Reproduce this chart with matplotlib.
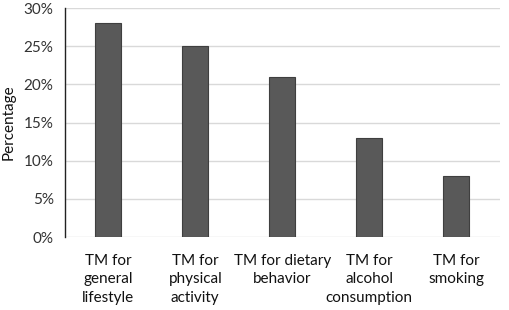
import matplotlib
matplotlib.use('Agg')
import matplotlib.pyplot as plt
from matplotlib.ticker import PercentFormatter

categories = ['TM for\ngeneral\nlifestyle', 'TM for\nphysical\nactivity',
              'TM for dietary\nbehavior', 'TM for\nalcohol\nconsumption',
              'TM for\nsmoking']
values = [28, 25, 21, 13, 8]
yticks = [0, 5, 10, 15, 20, 25, 30]

plt.rcParams['font.family'] = ['Lato', 'DejaVu Sans']

fig = plt.figure(figsize=(5.1, 3.1), dpi=100)
ax = fig.add_axes([0.127, 0.235, 0.853, 0.739])

x = list(range(len(values)))
ax.bar(x, values, width=0.3, color='#595959', edgecolor='#3f3f3f',
       linewidth=0.8, zorder=3)

ax.set_xlim(-0.5, len(values) - 0.5)
ax.set_ylim(0, 30)
ax.set_yticks(yticks)
ax.yaxis.set_major_formatter(PercentFormatter(decimals=0))
ax.set_xticks(x)
ax.set_xticklabels(categories, fontsize=11, color='#111111', linespacing=1.4)
ax.tick_params(axis='y', labelsize=11, colors='#333333', length=0, pad=8)
ax.tick_params(axis='x', length=0, pad=12)
ax.set_ylabel('Percentage', fontsize=11, color='#111111', labelpad=6)

ax.grid(axis='y', color='#d9d9d9', linewidth=1, zorder=0)
for s in ['top', 'right', 'bottom']:
    ax.spines[s].set_visible(False)
ax.spines['left'].set_color('#222222')
ax.spines['left'].set_linewidth(1)

fig.savefig('out.png', dpi=100)
